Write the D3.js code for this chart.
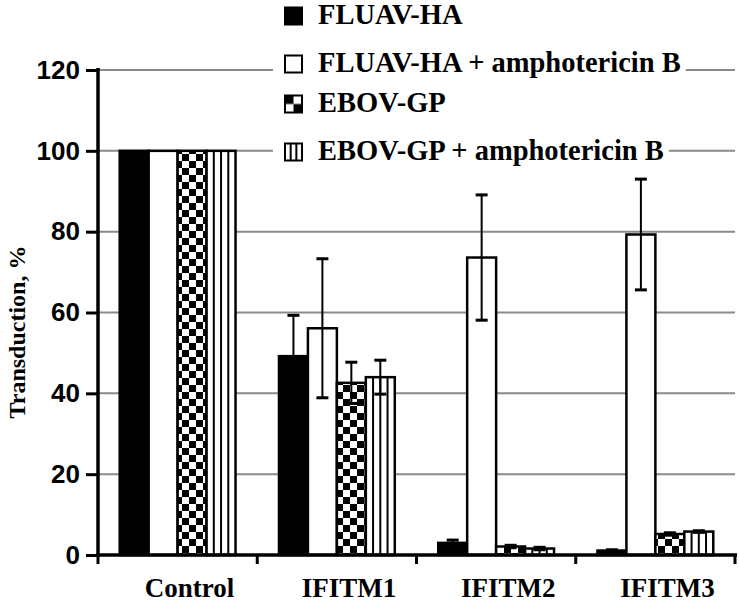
<!DOCTYPE html>
<html>
<head>
<meta charset="utf-8">
<script src="https://cdn.jsdelivr.net/npm/d3@7"></script>
<style>
  body { margin: 0; background: #fff; }
</style>
</head>
<body>
<div id="container"></div>
<script>
// Chart data
const categories = ["Control", "IFITM1", "IFITM2", "IFITM3"];
const series = ["FLUAV-HA", "FLUAV-HA + amphotericin B", "EBOV-GP", "EBOV-GP + amphotericin B"];
const fills = ["black", "white", "checker", "stripes"];
const values = [
    [100, 49.2, 3.0, 1.1],   // FLUAV-HA
    [100, 56.1, 73.6, 79.3], // FLUAV-HA + amphotericin B
    [100, 42.6, 2.1, 5.2],   // EBOV-GP
    [100, 44.0, 1.6, 5.8]    // EBOV-GP + amphotericin B
];
const errors = [
    [0, 10.1, 0.7, 0.2],
    [0, 17.2, 15.5, 13.7],
    [0, 5.1, 0.3, 0.3],
    [0, 4.2, 0.3, 0.2]
];
const yTicks = [0, 20, 40, 60, 80, 100, 120];

const width = 740;
const height = 605;
const margin = { left: 98, right: 5, top: 70, bottom: 50 };

const serif = "'Liberation Serif', 'Times New Roman', serif";

const svg = d3.select("#container").append("svg")
    .attr("width", width)
    .attr("height", height);

const x0 = d3.scaleBand()
    .domain(categories)
    .range([margin.left, width - margin.right])
    .paddingInner(0)
    .paddingOuter(0);

const x1 = d3.scaleBand()
    .domain(d3.range(series.length))
    .range([0, x0.bandwidth()])
    .paddingInner(0)
    .paddingOuter(0.75);

const y = d3.scaleLinear()
    .domain([0, 120])
    .range([height - margin.bottom, margin.top]);

// patterns
const defs = svg.append("defs");
const sq = 7;
const checker = defs.append("pattern")
    .attr("id", "checker")
    .attr("patternUnits", "userSpaceOnUse")
    .attr("width", sq * 2)
    .attr("height", sq * 2);
checker.append("rect").attr("width", sq * 2).attr("height", sq * 2).attr("fill", "white");
checker.append("rect").attr("width", sq).attr("height", sq).attr("fill", "black");
checker.append("rect").attr("x", sq).attr("y", sq).attr("width", sq).attr("height", sq).attr("fill", "black");

const checkerLegend = defs.append("pattern")
    .attr("id", "checkerLegend")
    .attr("patternUnits", "objectBoundingBox")
    .attr("patternContentUnits", "objectBoundingBox")
    .attr("width", 1).attr("height", 1);
checkerLegend.append("rect").attr("width", 1).attr("height", 1).attr("fill", "white");
checkerLegend.append("rect").attr("width", 0.5).attr("height", 0.5).attr("fill", "black");
checkerLegend.append("rect").attr("x", 0.5).attr("y", 0.5).attr("width", 0.5).attr("height", 0.5).attr("fill", "black");

// gridlines
svg.append("g")
    .selectAll("line")
    .data(yTicks.filter(d => d > 0))
    .join("line")
    .attr("x1", margin.left)
    .attr("x2", width - margin.right)
    .attr("y1", d => y(d))
    .attr("y2", d => y(d))
    .attr("stroke", "#8a8a8a")
    .attr("stroke-width", 2);

// bars
const rows = [];
series.forEach((s, i) => {
    categories.forEach((c, j) => {
        rows.push({ s: i, c, v: values[i][j], e: errors[i][j] });
    });
});

const barFill = d => fills[d.s] === "black" ? "black" : fills[d.s] === "checker" ? "url(#checker)" : "white";

const bars = svg.append("g")
    .selectAll("g")
    .data(rows)
    .join("g");

bars.append("rect")
    .attr("x", d => x0(d.c) + x1(d.s))
    .attr("y", d => y(d.v))
    .attr("width", x1.bandwidth())
    .attr("height", d => y(0) - y(d.v))
    .attr("fill", barFill)
    .attr("stroke", "black")
    .attr("stroke-width", 2.5);

// vertical stripes inside striped bars
bars.filter(d => fills[d.s] === "stripes")
    .selectAll("line")
    .data(d => [0.25, 0.5, 0.75].map(f => ({ d, f })))
    .join("line")
    .attr("x1", o => x0(o.d.c) + x1(o.d.s) + x1.bandwidth() * o.f)
    .attr("x2", o => x0(o.d.c) + x1(o.d.s) + x1.bandwidth() * o.f)
    .attr("y1", o => y(o.d.v))
    .attr("y2", y(0))
    .attr("stroke", "black")
    .attr("stroke-width", 2);

// error bars
const err = svg.append("g")
    .attr("stroke", "black")
    .attr("stroke-width", 2)
    .selectAll("g")
    .data(rows.filter(d => d.e > 0))
    .join("g")
    .attr("transform", d => `translate(${x0(d.c) + x1(d.s) + x1.bandwidth() / 2},0)`);

err.append("line")
    .attr("y1", d => y(d.v - d.e))
    .attr("y2", d => y(d.v + d.e));
err.append("line")
    .attr("x1", -6).attr("x2", 6)
    .attr("y1", d => y(d.v + d.e)).attr("y2", d => y(d.v + d.e))
    .attr("stroke-width", 3);
err.append("line")
    .attr("x1", -6).attr("x2", 6)
    .attr("y1", d => y(d.v - d.e)).attr("y2", d => y(d.v - d.e))
    .attr("stroke-width", 3);

// y axis
const yAxis = svg.append("g")
    .attr("transform", `translate(${margin.left},0)`)
    .call(d3.axisLeft(y).tickValues(yTicks).tickSize(12).tickSizeOuter(0).tickPadding(6));
yAxis.select(".domain").attr("stroke-width", 3.5).attr("d", `M0,${y(120) - 2}V${y(0) + 2}`);
yAxis.selectAll(".tick line").attr("stroke-width", 3);
yAxis.selectAll(".tick text")
    .attr("font-family", "'Liberation Sans', Arial, sans-serif")
    .attr("font-weight", "bold")
    .attr("font-size", 26)
    .attr("fill", "black");

// x axis
const xAxis = svg.append("g")
    .attr("transform", `translate(0,${y(0)})`);
xAxis.append("line")
    .attr("x1", margin.left - 2)
    .attr("x2", width - margin.right + 2)
    .attr("stroke", "black")
    .attr("stroke-width", 3.5);
xAxis.selectAll(".xt")
    .data(categories.map(c => x0(c)).concat([x0(categories[categories.length - 1]) + x0.bandwidth()]))
    .join("line")
    .attr("class", "xt")
    .attr("x1", d => d).attr("x2", d => d)
    .attr("y1", 0).attr("y2", 9)
    .attr("stroke", "black")
    .attr("stroke-width", 3);
// labels sit a little right of the band centres in the original
const labelShift = 12;
xAxis.selectAll("text")
    .data(categories)
    .join("text")
    .attr("x", d => x0(d) + x0.bandwidth() / 2 + labelShift)
    .attr("y", 42)
    .attr("text-anchor", "middle")
    .attr("font-family", serif)
    .attr("font-weight", "bold")
    .attr("font-size", 27)
    .text(d => d);

// y axis title
svg.append("text")
    .attr("transform", `translate(25,${332}) rotate(-90)`)
    .attr("text-anchor", "middle")
    .attr("font-family", serif)
    .attr("font-weight", "bold")
    .attr("font-size", 24)
    .text("Transduction, %");

// legend
const legendY = [16, 64, 104, 152];
const legend = svg.append("g")
    .selectAll("g")
    .data(series)
    .join("g")
    .attr("transform", (d, i) => `translate(285,${legendY[i]})`);

const bg = legend.append("rect")
    .attr("x", -12)
    .attr("y", -15)
    .attr("height", 30)
    .attr("fill", "white");

legend.append("rect")
    .attr("x", 0).attr("y", -8.5)
    .attr("width", 17).attr("height", 17)
    .attr("fill", (d, i) => fills[i] === "black" ? "black" : fills[i] === "checker" ? "url(#checkerLegend)" : "white")
    .attr("stroke", "black")
    .attr("stroke-width", 2);

legend.filter((d, i) => fills[i] === "stripes")
    .selectAll("line")
    .data([1 / 3, 2 / 3])
    .join("line")
    .attr("x1", f => 17 * f).attr("x2", f => 17 * f)
    .attr("y1", -8.5).attr("y2", 8.5)
    .attr("stroke", "black")
    .attr("stroke-width", 2);

const ltext = legend.append("text")
    .attr("x", 33)
    .attr("y", 8)
    .attr("font-family", serif)
    .attr("font-weight", "bold")
    .attr("font-size", 28.5)
    .text(d => d);

ltext.each(function (d, i) {
    const w = this.getComputedTextLength();
    d3.select(bg.nodes()[i]).attr("width", 33 + w + 17);
});
</script>
</body>
</html>
